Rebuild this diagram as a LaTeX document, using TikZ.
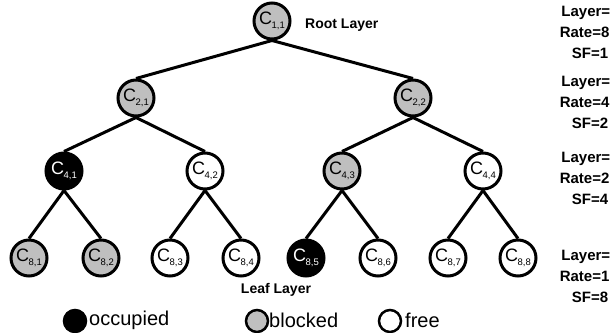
\documentclass[tikz,border=0pt]{standalone}
\usepackage{fontspec}
\setmainfont{Liberation Sans}
\pgfdeclarelayer{background}
\pgfsetlayers{background,main}
\newcommand{\clab}[2][black]{\textcolor{#1}{{\fontsize{18}{18}\selectfont C}\kern-0.5pt\raisebox{-3.5pt}{\fontsize{9.5}{9.5}\selectfont #2}}}
\begin{document}
\begin{tikzpicture}[x=1pt,y=-1pt,
  cnode/.style={circle,draw=black,line width=3pt,minimum size=36pt,inner sep=0pt},
  freenode/.style={cnode,fill=white},
  blocknode/.style={cnode,fill=black!25},
  occnode/.style={cnode,fill=black},
  edge/.style={line width=3pt},
  layerlbl/.style={font=\bfseries\fontsize{14}{14}\selectfont},
  info/.style={font=\bfseries\fontsize{15}{21}\selectfont,align=center},
  legtxt/.style={font=\fontsize{20}{20}\selectfont,anchor=west,inner sep=0pt},
  legc/.style={circle,draw=black,line width=2.5pt,minimum size=22pt,inner sep=0pt}]
\clip (0,0) rectangle (610,332);
\useasboundingbox (0,0) rectangle (610,332);
\node[blocknode] (c11) at (272,21) {\clab{1,1}};
\node[blocknode] (c21) at (136,98) {\clab{2,1}};
\node[blocknode] (c22) at (413,98) {\clab{2,2}};
\node[occnode] (c41) at (64,171) {\clab[white]{4,1}};
\node[freenode] (c42) at (205,171) {\clab{4,2}};
\node[blocknode] (c43) at (342,171) {\clab{4,3}};
\node[freenode] (c44) at (483,171) {\clab{4,4}};
\node[blocknode] (c81) at (29,258) {\clab{8,1}};
\node[blocknode] (c82) at (101,258) {\clab{8,2}};
\node[freenode] (c83) at (170,258) {\clab{8,3}};
\node[freenode] (c84) at (241,258) {\clab{8,4}};
\node[occnode] (c85) at (306,258) {\clab[white]{8,5}};
\node[freenode] (c86) at (378,258) {\clab{8,6}};
\node[freenode] (c87) at (448,258) {\clab{8,7}};
\node[freenode] (c88) at (518,258) {\clab{8,8}};
\begin{pgfonlayer}{background}
\foreach \p/\a/\b in {c11/c21/c22,c21/c41/c42,c22/c43/c44,c41/c81/c82,c42/c83/c84,c43/c85/c86,c44/c87/c88}{
  \draw[edge] (\p.south) -- (\a.north);
  \draw[edge] (\p.south) -- (\b.north);
}
\end{pgfonlayer}
\node[layerlbl,anchor=west,inner sep=0pt] (root) at (305,25) {Root Layer};
\node[layerlbl] (leaf) at (276,290) {Leaf Layer};
\node[info] (i1) at (590,32) {Layer=1\\Rate=8R\\SF=1};
\node[info] (i2) at (590,102) {Layer=2\\Rate=4R\\SF=2};
\node[info] (i3) at (590,178) {Layer=3\\Rate=2R\\SF=4};
\node[info] (i4) at (590,276) {Layer=4\\Rate=1R\\SF=8};
\node[legc,fill=black] (l1) at (75,321) {};
\node[legtxt] (t1) at (89,320) {occupied};
\node[legc,fill=black!25] (l2) at (257,321) {};
\node[legtxt] (t2) at (269,320) {blocked};
\node[legc,fill=white] (l3) at (390,321) {};
\node[legtxt] (t3) at (405,320) {free};
\end{tikzpicture}
\end{document}
